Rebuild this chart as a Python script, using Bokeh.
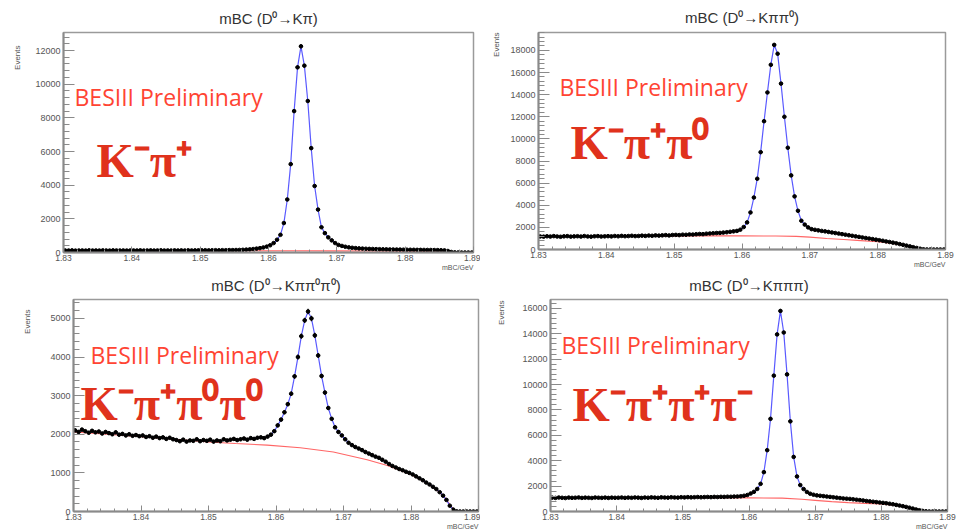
import numpy as np
from bokeh.plotting import figure
from bokeh.layouts import column, row
from bokeh.models import ColumnDataSource, Label, FixedTicker, Range1d, Title
from bokeh.embed import file_html
from bokeh.resources import INLINE

# ---------------- data ----------------
X_MIN, X_MAX, BIN_W = 1.83, 1.89, 0.0005
n_bins = 120

kpi_counts = [
    120, 115, 125, 110, 118, 122, 112, 128, 116, 120,
    114, 124, 119, 113, 126, 121, 117, 123, 115, 119,
    122, 118, 127, 114, 120, 125, 116, 121, 129, 118,
    123, 117, 126, 120, 124, 119, 128, 122, 125, 130,
    127, 133, 125, 131, 136, 129, 138, 134, 142, 139,
    148, 152, 160, 171, 185, 205, 230, 260, 300, 350,
    430, 560, 760, 1050, 1750, 3150, 5250, 8400, 11000, 12250,
    11100, 9000, 6200, 3950, 2550, 1500, 1150, 900, 720, 560,
    450, 390, 340, 305, 280, 260, 245, 232, 222, 214,
    208, 200, 196, 190, 186, 182, 178, 175, 172, 168,
    165, 162, 160, 157, 155, 152, 150, 148, 145, 140,
    135, 125, 90, 30, 8, 2, 0, 0, 0, 0]

kpipi0_counts = [
    1180, 1160, 1195, 1170, 1210, 1175, 1150, 1190, 1205, 1165,
    1185, 1200, 1170, 1215, 1180, 1160, 1195, 1210, 1175, 1190,
    1205, 1185, 1220, 1195, 1230, 1200, 1215, 1240, 1210, 1225,
    1250, 1230, 1260, 1240, 1275, 1255, 1280, 1300, 1270, 1310,
    1320, 1300, 1340, 1330, 1360, 1350, 1380, 1400, 1390, 1430,
    1450, 1470, 1490, 1500, 1530, 1560, 1600, 1640, 1680, 1790,
    2030, 2450, 3350, 4700, 6400, 8800, 11600, 14200, 16700, 18500,
    17700, 15000, 12000, 9200, 6700, 4800, 3500, 2600, 2250, 2000,
    1840, 1780, 1730, 1680, 1640, 1590, 1540, 1490, 1440, 1390,
    1340, 1290, 1240, 1190, 1140, 1090, 1040, 990, 940, 890,
    840, 790, 730, 680, 620, 560, 490, 420, 350, 280,
    210, 140, 70, 20, 5, 0, 0, 0, 0, 0]

kpipi0pi0_counts = [
    2100, 2060, 2120, 2080, 2040, 2090, 2050, 2070, 2020, 2060,
    2030, 2000, 2050, 1990, 2010, 1970, 2000, 1960, 1980, 1950,
    1970, 1930, 1950, 1910, 1940, 1900, 1920, 1880, 1910, 1870,
    1850, 1820, 1860, 1810, 1840, 1830, 1870, 1820, 1850, 1830,
    1860, 1810, 1840, 1820, 1870, 1840, 1860, 1880, 1850, 1870,
    1890, 1860, 1900, 1880, 1910, 1920, 1900, 1940, 1990, 2080,
    2230, 2380, 2570, 2780, 3050, 3500, 4000, 4540, 4950, 5180,
    5000, 4560, 4040, 3510, 3080, 2680, 2400, 2180, 2060, 1970,
    1870, 1780, 1720, 1670, 1630, 1590, 1540, 1500, 1460, 1420,
    1390, 1340, 1290, 1230, 1180, 1140, 1100, 1070, 1030, 1000,
    960, 910, 860, 810, 750, 700, 640, 580, 500, 410,
    300, 150, 50, 5, 0, 0, 0, 0, 0, 0]

k3pi_counts = [
    1090, 1070, 1100, 1080, 1060, 1095, 1075, 1085, 1105, 1070,
    1090, 1080, 1065, 1100, 1085, 1075, 1095, 1070, 1090, 1080,
    1085, 1100, 1075, 1095, 1080, 1105, 1090, 1070, 1100, 1085,
    1110, 1095, 1080, 1115, 1100, 1090, 1120, 1105, 1095, 1125,
    1110, 1130, 1115, 1125, 1140, 1120, 1135, 1145, 1130, 1150,
    1140, 1155, 1150, 1165, 1160, 1175, 1180, 1200, 1240, 1300,
    1420, 1550, 1780, 2180, 3100, 4830, 7300, 10700, 13950, 15800,
    14100, 10800, 7100, 4300, 2760, 2080, 1770, 1540, 1400, 1320,
    1270, 1240, 1210, 1180, 1150, 1120, 1090, 1060, 1030, 1010,
    990, 960, 930, 900, 870, 830, 800, 770, 740, 710,
    680, 650, 610, 570, 520, 470, 420, 360, 300, 230,
    160, 100, 45, 15, 3, 0, 0, 0, 0, 0]

kpi_bkg_x = [1.830, 1.835, 1.840, 1.845, 1.850, 1.855, 1.860, 1.865, 1.870,
             1.875, 1.880, 1.883, 1.885, 1.886, 1.8865, 1.890]
kpi_bkg = [105, 105, 106, 106, 106, 105, 104, 102, 98, 92, 80, 65, 45, 25, 0, 0]

kpipi0_bkg_x = [1.830, 1.835, 1.840, 1.845, 1.850, 1.855, 1.860, 1.865, 1.868,
                1.870, 1.8725, 1.875, 1.8775, 1.880, 1.8825, 1.885, 1.886,
                1.8865, 1.890]
kpipi0_bkg = [1160, 1175, 1190, 1205, 1220, 1230, 1230, 1220, 1190, 1120, 1000,
              900, 800, 700, 530, 260, 100, 0, 0]

kpipi0pi0_bkg_x = [1.830, 1.835, 1.840, 1.845, 1.850, 1.854, 1.8587, 1.8636,
                   1.8685, 1.8735, 1.8765, 1.880, 1.8825, 1.884, 1.885, 1.886,
                   1.8865, 1.890]
kpipi0pi0_bkg = [2060, 2000, 1940, 1870, 1800, 1760, 1720, 1650, 1540, 1340,
                 1190, 960, 720, 530, 370, 120, 0, 0]

k3pi_bkg_x = [1.830, 1.840, 1.850, 1.855, 1.860, 1.865, 1.868, 1.870, 1.8725,
              1.875, 1.8775, 1.880, 1.8825, 1.885, 1.886, 1.8865, 1.890]
k3pi_bkg = [1085, 1085, 1085, 1080, 1070, 1050, 960, 880, 780, 700, 640, 590,
            460, 170, 50, 0, 0]

titles = ["mBC (D\u2070\u2192K\u03c0)", "mBC (D\u2070\u2192K\u03c0\u03c0\u2070)",
          "mBC (D\u2070\u2192K\u03c0\u03c0\u2070\u03c0\u2070)", "mBC (D\u2070\u2192K\u03c0\u03c0\u03c0)"]
modes = ["K\u207b\u03c0\u207a", "K\u207b\u03c0\u207a\u03c0\u2070",
         "K\u207b\u03c0\u207a\u03c0\u2070\u03c0\u2070", "K\u207b\u03c0\u207a\u03c0\u207a\u03c0\u207b"]
x_ticks = [1.83, 1.84, 1.85, 1.86, 1.87, 1.88, 1.89]
y_ticks_list = [[0, 2000, 4000, 6000, 8000, 10000, 12000],
                [0, 2000, 4000, 6000, 8000, 10000, 12000, 14000, 16000, 18000],
                [0, 1000, 2000, 3000, 4000, 5000],
                [0, 2000, 4000, 6000, 8000, 10000, 12000, 14000, 16000]]
y_max_list = [13070, 19620, 5490, 16700]
prelim_text = "BESIII Preliminary"
y_title = "Events"
x_title = "mBC/GeV"

# ---------------- drawing ----------------
centers = X_MIN + BIN_W * (np.arange(n_bins) + 0.5)


def make_panel(counts, bkg_x, bkg_y, title, mode, y_ticks, y_max, g):
    fw, fh = g["fw"], g["fh"]
    p = figure(frame_width=fw, frame_height=fh,
               min_border_left=g["bl"], min_border_right=g["br"],
               min_border_top=g["bt"], min_border_bottom=g["bb"],
               x_range=Range1d(X_MIN, X_MAX), y_range=Range1d(0, y_max),
               output_backend="svg", toolbar_location=None)
    p.background_fill_color = "white"
    p.border_fill_color = "white"
    p.outline_line_color = "#9a9a9a"
    p.outline_line_width = 1.5
    p.xgrid.visible = False
    p.ygrid.visible = False

    cnt = np.array(counts, dtype=float)
    err = np.sqrt(cnt)
    src = ColumnDataSource(dict(x=centers, y=cnt, x0=centers - BIN_W / 2,
                                x1=centers + BIN_W / 2, ylo=cnt - err, yhi=cnt + err))
    p.line(bkg_x, bkg_y, line_color="#ff6666", line_width=1.1)
    p.line("x", "y", source=src, line_color="#5a5aff", line_width=1.2)
    p.segment("x0", "y", "x1", "y", source=src, line_color="black", line_width=1.6)
    p.segment("x", "ylo", "x", "yhi", source=src, line_color="black", line_width=1.2)
    p.scatter("x", "y", source=src, size=3.6, marker="circle",
              fill_color="black", line_color="black")

    minor_x = [round(1.83 + 0.002 * k, 4) for k in range(31)]
    p.xaxis.ticker = FixedTicker(ticks=x_ticks, minor_ticks=minor_x)
    step = y_ticks[1] - y_ticks[0]
    minor_y = [step / 5 * k for k in range(int(y_max / (step / 5)) + 1)]
    p.yaxis.ticker = FixedTicker(ticks=y_ticks, minor_ticks=minor_y)
    for ax in (p.xaxis, p.yaxis):
        ax.axis_line_color = "#8a8a8a"
        ax.axis_line_width = 2
        ax.major_tick_line_color = "#8a8a8a"
        ax.minor_tick_line_color = "#8a8a8a"
        ax.major_tick_out = 0
        ax.minor_tick_out = 0
        ax.major_label_text_font = "Liberation Sans"
        ax.major_label_text_color = "#555555"
    p.xaxis.major_tick_in = 6
    p.xaxis.minor_tick_in = 3
    p.yaxis.major_tick_in = 11
    p.yaxis.minor_tick_in = 6
    p.xaxis.major_label_text_font_size = "8.5px"
    p.yaxis.major_label_text_font_size = "9px"
    p.xaxis.major_label_standoff = 2
    p.yaxis.major_label_standoff = 3

    # texts outside the frame: titles in the side panels
    p.add_layout(Title(text=title, align="center", vertical_align="middle",
                       text_font="Liberation Sans", text_font_size="15px",
                       text_font_style="normal", text_color="#333333",
                       standoff=g["tso"]), "above")
    p.add_layout(Title(text=y_title, align="right", text_font="Liberation Sans",
                       text_font_size="8px", text_font_style="normal",
                       text_color="#555555", standoff=g["eso"], offset=g["eoff"]), "left")
    p.add_layout(Title(text=x_title, align="right", vertical_align="top",
                       text_font="Liberation Sans", text_font_size="7px",
                       text_font_style="normal", text_color="#555555",
                       standoff=0), "below")

    # texts inside the frame, placed by pixel offsets from the frame's lower-left corner
    def lab(px, py, text, **kw):
        x = X_MIN + px / fw * (X_MAX - X_MIN)
        y = py / fh * y_max
        p.add_layout(Label(x=x, y=y, text=text, text_baseline="middle", **kw))

    lab(g["prelim"][0], g["prelim"][1], prelim_text, text_font="Open Sans",
        text_font_size="23px", text_color="#ff4433")
    lab(g["mode"][0], g["mode"][1], mode, text_font="Liberation Serif",
        text_font_style="bold", text_font_size="48px", text_color="#e0321c")
    return p


geoms = [
    dict(fw=410, fh=220, bl=63, br=7, bt=29, bb=22, tso=9, eso=21, eoff=13,
         prelim=(11, 156), mode=(33, 92)),
    dict(fw=407, fh=217, bl=58, br=13, bt=32, bb=22, tso=11, eso=13, eoff=0,
         prelim=(21, 163), mode=(32, 107)),
    dict(fw=405, fh=212, bl=73, br=2, bt=27, bb=20, tso=9, eso=31, eoff=10,
         prelim=(17, 157), mode=(7, 108)),
    dict(fw=397, fh=212, bl=68, br=13, bt=27, bb=20, tso=9, eso=28, eoff=1,
         prelim=(11, 167), mode=(22, 107)),
]

series = [(kpi_counts, kpi_bkg_x, kpi_bkg),
          (kpipi0_counts, kpipi0_bkg_x, kpipi0_bkg),
          (kpipi0pi0_counts, kpipi0pi0_bkg_x, kpipi0pi0_bkg),
          (k3pi_counts, k3pi_bkg_x, k3pi_bkg)]

panels = []
for k in range(4):
    c, bx, by = series[k]
    panels.append(make_panel(c, bx, by, titles[k], modes[k], y_ticks_list[k],
                             y_max_list[k], geoms[k]))

layout = column(row(panels[0], panels[1]), row(panels[2], panels[3]))
open("out.html", "w").write(file_html(layout, INLINE))
